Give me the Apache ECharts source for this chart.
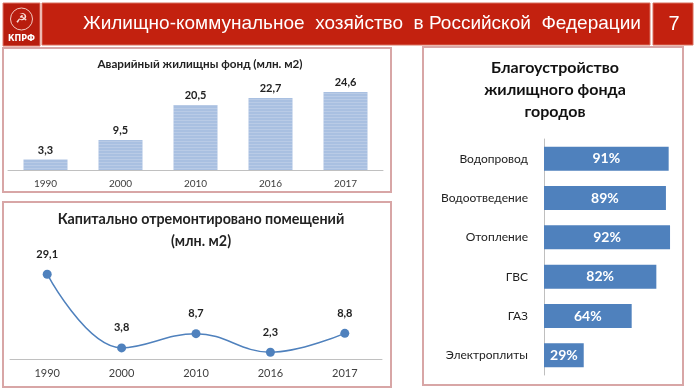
<!DOCTYPE html>
<html><head><meta charset="utf-8">
<script src="https://cdn.jsdelivr.net/npm/echarts@6/dist/echarts.min.js"></script>
<style>html,body{margin:0;padding:0;background:#fff}#c{width:700px;height:392px}</style>
</head><body><div id="c"></div>
<script>
var years = ['1990','2000','2010','2016','2017'];
var emergencyStock = [3.3, 9.5, 20.5, 22.7, 24.6];
var repaired = [29.1, 3.8, 8.7, 2.3, 8.8];
var amenityCats = ['Водопровод','Водоотведение','Отопление','ГВС','ГАЗ','Электроплиты'];
var amenityVals = [91, 89, 92, 82, 64, 29];

var F = 'Lato, "Open Sans", sans-serif';
var comma = function(p){ return String(p.value).replace('.', ','); };
var chart = echarts.init(document.getElementById('c'));
var red = '#c3210f';
var border = '#d8a6a6';
chart.setOption({
  animation:false,
  backgroundColor:'#fff',
  graphic:[
    {type:'rect', shape:{x:3,y:3,width:37,height:43}, style:{fill:'#b81d0e', stroke:'#e07a6c', lineWidth:1}},
    {type:'circle', shape:{cx:21.5,cy:19,r:11}, style:{fill:'none', stroke:'#f4c9c0', lineWidth:1}},
    {type:'text', x:21.5, y:19, style:{text:'☭', fill:'#fbe3dc', font:'14px "DejaVu Sans"', align:'center', verticalAlign:'middle'}},
    {type:'text', x:21.5, y:39, style:{text:'КПРФ', fill:'#fff', font:'bold 8px "DejaVu Sans"', align:'center', verticalAlign:'middle'}},
    {type:'rect', shape:{x:42,y:3,width:608,height:42}, style:{fill:red, stroke:'#d9705f', lineWidth:1}},
    {type:'text', x:362, y:24, style:{text:'Жилищно-коммунальное  хозяйство  в Российской  Федерации', fill:'#fff', font:'19px "Liberation Sans", Arial, sans-serif', align:'center', verticalAlign:'middle'}},
    {type:'rect', shape:{x:653,y:3,width:40,height:42}, style:{fill:red, stroke:'#d9705f', lineWidth:1}},
    {type:'text', x:674, y:24, style:{text:'7', fill:'#fff', font:'20px "Liberation Sans", Arial, sans-serif', align:'center', verticalAlign:'middle'}},
    {type:'rect', shape:{x:3,y:48,width:388,height:144}, style:{fill:'none', stroke:border, lineWidth:2}},
    {type:'rect', shape:{x:3,y:202,width:388,height:185}, style:{fill:'none', stroke:border, lineWidth:2}},
    {type:'rect', shape:{x:423,y:47,width:260,height:338}, style:{fill:'none', stroke:border, lineWidth:2}}
  ],
  title:[
    {text:'Аварийный жилищны фонд (млн. м2)', left:195, top:53, textAlign:'center',
     textStyle:{fontFamily:F, fontWeight:'bold', fontSize:11.7, color:'#222'}},
    {text:'Капитально отремонтировано помещений\n(млн. м2)', left:196, top:203, textAlign:'center',
     textStyle:{fontFamily:F, fontWeight:'bold', fontSize:14.3, color:'#222', lineHeight:22}},
    {text:'Благоустройство\nжилищного фонда\nгородов', left:550, top:52, textAlign:'center',
     textStyle:{fontFamily:F, fontWeight:'bold', fontSize:16, color:'#111', lineHeight:22}}
  ],
  grid:[
    {left:8, top:75, width:375, height:95},
    {left:10, top:257, width:372, height:102},
    {left:544, top:139, width:137, height:236}
  ],
  xAxis:[
    {gridIndex:0, type:'category', data:years, axisLine:{lineStyle:{color:'#c0c0c0'}}, axisTick:{length:4, lineStyle:{color:'#c0c0c0'}},
     axisLabel:{fontFamily:F, fontSize:10, color:'#404040', margin:9}},
    {gridIndex:1, type:'category', data:years, axisLine:{lineStyle:{color:'#c0c0c0'}}, axisTick:{length:4, lineStyle:{color:'#c0c0c0'}},
     axisLabel:{fontFamily:F, fontSize:11, color:'#404040', margin:9}},
    {gridIndex:2, type:'value', min:0, max:100, show:false, splitLine:{show:false}}
  ],
  yAxis:[
    {gridIndex:0, type:'value', min:0, max:30, show:false, splitLine:{show:false}},
    {gridIndex:1, type:'value', min:0, max:35, show:false, splitLine:{show:false}},
    {gridIndex:2, type:'category', data:amenityCats, inverse:true,
     axisLine:{lineStyle:{color:'#bfbfbf'}}, axisTick:{length:4, lineStyle:{color:'#bfbfbf'}},
     axisLabel:{fontFamily:F, fontSize:12, color:'#222', margin:16}}
  ],
  series:[
    {type:'bar', xAxisIndex:0, yAxisIndex:0, data:emergencyStock, barWidth:44,
     itemStyle:{color:'#a9c0e1', decal:{symbol:'rect', dashArrayX:[1,0], dashArrayY:[1,2], rotation:0, color:'rgba(255,255,255,0.18)'}},
     label:{show:true, position:'top', formatter:comma, fontFamily:F, fontWeight:'bold', fontSize:11, color:'#222', distance:4}},
    {type:'line', xAxisIndex:1, yAxisIndex:1, data:repaired, smooth:0.4, symbol:'circle', symbolSize:9,
     lineStyle:{color:'#4f81bd', width:1.5}, itemStyle:{color:'#4f81bd'},
     label:{show:true, position:'top', formatter:comma, fontFamily:F, fontWeight:'bold', fontSize:11, color:'#222', distance:10}},
    {type:'bar', xAxisIndex:2, yAxisIndex:2, data:amenityVals, barWidth:24,
     itemStyle:{color:'#4f81bd'},
     label:{show:true, position:'inside', formatter:'{c}%', fontFamily:F, fontWeight:'bold', fontSize:14, color:'#fff'}}
  ]
});
</script></body></html>
